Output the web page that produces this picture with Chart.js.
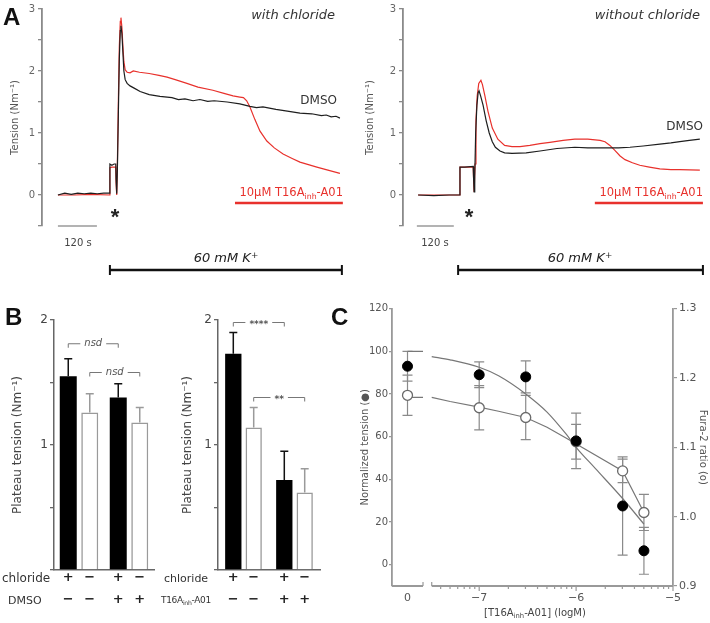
<!DOCTYPE html>
<html><head><meta charset="utf-8"><title>T16Ainh-A01 tension figure</title>
<script src="https://cdn.jsdelivr.net/npm/chart.js@4.4.1/dist/chart.umd.min.js"></script>
<style>
html,body{margin:0;padding:0;background:#fff;}
#fig{position:relative;width:710px;height:623px;overflow:hidden;font-family:"DejaVu Sans",sans-serif;}
canvas{position:absolute;}
.lb{position:absolute;white-space:nowrap;line-height:1;}
.lb sub{font-size:0.68em;vertical-align:-0.35em;line-height:0;}
.lb sup{font-size:0.68em;vertical-align:0.45em;line-height:0;}
</style></head>
<body><div id="fig">
<canvas id="a1" width="355" height="300" style="left:0;top:0"></canvas>
<canvas id="a2" width="355" height="300" style="left:355px;top:0"></canvas>
<canvas id="b1" width="160" height="323" style="left:0;top:300px"></canvas>
<canvas id="b2" width="195" height="323" style="left:160px;top:300px"></canvas>
<canvas id="c" width="355" height="323" style="left:355px;top:300px"></canvas>
</div>
<script>
const RED = '#e8312c';

// ---------- Panel A : [time (s), tension (N m^-1)] ----------
const A1_DMSO = [[49,0.0],[70,0.03],[90,0.01],[110,0.03],[130,0.02],[150,0.03],[170,0.02],[190,0.03],[208,0.03],[209,0.5],[215,0.48],[222,0.5],[227,0.5],[228,0.25],[230,0.02],[232,0.4],[235,1.3],[238,2.2],[241,2.65],[243,2.73],[246,2.6],[249,2.3],[252,2.0],[256,1.86],[262,1.8],[271,1.76],[285,1.72],[302,1.67],[330,1.62],[363,1.59],[400,1.57],[420,1.54],[440,1.55],[465,1.52],[486,1.54],[510,1.51],[530,1.52],[570,1.5],[609,1.47],[640,1.43],[660,1.41],[680,1.42],[720,1.38],[760,1.35],[794,1.32],[830,1.31],[860,1.28],[875,1.29],[890,1.26],[905,1.27],[917,1.24]];
const A1_T16A = [[49,0.0],[100,0.0],[150,0.01],[208,0.0],[209,0.44],[215,0.45],[227,0.45],[228,0.2],[230,0.0],[232,0.5],[235,1.5],[238,2.4],[241,2.8],[243,2.86],[246,2.7],[249,2.4],[252,2.15],[256,2.02],[262,1.98],[271,1.97],[281,2.0],[300,1.98],[330,1.96],[360,1.93],[385,1.9],[410,1.86],[446,1.8],[480,1.74],[526,1.69],[560,1.64],[588,1.6],[609,1.58],[620,1.57],[630,1.52],[640,1.42],[655,1.22],[671,1.03],[692,0.87],[715,0.76],[742,0.66],[770,0.59],[794,0.53],[820,0.49],[846,0.45],[880,0.4],[917,0.35]];
const A2_DMSO = [[49,0.0],[100,-0.01],[150,0.0],[184,0.0],[185,0.45],[200,0.45],[228,0.46],[229,0.3],[231,0.05],[233,0.3],[236,1.0],[240,1.45],[244,1.65],[247,1.68],[252,1.6],[260,1.45],[270,1.2],[280,1.0],[290,0.86],[300,0.77],[315,0.71],[330,0.68],[354,0.67],[400,0.68],[445,0.71],[500,0.75],[558,0.77],[600,0.76],[656,0.76],[700,0.76],[737,0.77],[780,0.79],[834,0.82],[870,0.84],[899,0.86],[930,0.88],[964,0.9]];
const A2_T16A = [[49,0.0],[184,0.0],[185,0.45],[228,0.45],[230,0.15],[231,0.05],[234,0.5],[237,1.2],[241,1.6],[246,1.8],[253,1.85],[258,1.78],[266,1.6],[276,1.35],[290,1.08],[308,0.9],[330,0.8],[354,0.78],[380,0.78],[412,0.8],[445,0.83],[477,0.85],[520,0.88],[558,0.9],[600,0.9],[640,0.88],[656,0.86],[672,0.8],[688,0.72],[705,0.63],[721,0.57],[745,0.52],[769,0.48],[800,0.45],[834,0.42],[870,0.41],[899,0.41],[964,0.4]];
const A_YTICKS = [-0.5, 0, 0.5, 1, 1.5, 2, 2.5, 3];
const A1_SCALEBAR_S = [49, 169];   // 120 s
const A1_KPLUS_S = [209, 923];     // 60 mM K+
const A1_DRUG_S = [594, 926];      // T16Ainh-A01
const A2_SCALEBAR_S = [45, 165];
const A2_KPLUS_S = [179, 974];
const A2_DRUG_S = [623, 974];

// ---------- Panel B : plateau tension (N m^-1) ----------
const B_GROUPS = ['no drug', 'drug'];
const B_CHLORIDE_SIGNS = ['+', '−'];
const B1_DRUG_SIGNS = ['−', '+'];   // DMSO
const B2_DRUG_SIGNS = ['−', '+'];   // T16Ainh-A01
const B1_WITH_CL = [1.55, 1.38];
const B1_WITH_CL_SEM = [0.14, 0.11];
const B1_NO_CL = [1.26, 1.18];
const B1_NO_CL_SEM = [0.15, 0.12];
const B2_WITH_CL = [1.73, 0.72];
const B2_WITH_CL_SEM = [0.17, 0.23];
const B2_NO_CL = [1.14, 0.62];
const B2_NO_CL_SEM = [0.16, 0.19];
const B_YTICKS = [0, 0.5, 1, 1.5, 2];
const B1_SIG = [{ds:0, y:1.81, text:'nsd'}, {ds:1, y:1.58, text:'nsd'}];
const B2_SIG = [{ds:0, y:1.98, text:'****'}, {ds:1, y:1.38, text:'**'}];

// ---------- Panel C : dose response ----------
const C_CONTROL_POS = -7.74;   // axis position of the "0" (no inhibitor) group
const C_CONTROL_END = -7.58;
const C_LOGCONC = [C_CONTROL_POS, -7, -6.52, -6, -5.52, -5.3];
const C_TENSION = [93, 89, 88, 58, 27.5, 6.5];
const C_TENSION_SEM = [7, 6, 7.5, 13, 23, 11];
const C_FURA = [1.175, 1.157, 1.143, 1.108, 1.066, 1.006];
const C_FURA_SEM = [0.029, 0.032, 0.032, 0.025, 0.017, 0.026];
const C_FIT_TENSION_X = [-7.49, -7.3, -7.0, -6.8, -6.52, -6.3, -6.1, -6.0, -5.8, -5.52, -5.3];
const C_FIT_TENSION = [97.5, 96, 92.5, 88.5, 80, 71.5, 61, 55, 45, 31, 19];
const C_FIT_FURA_X = [-7.49, -7.3, -7.0, -6.8, -6.52, -6.3, -6.1, -5.52, -5.3];
const C_FIT_FURA = [1.172, 1.166, 1.158, 1.152, 1.143, 1.129, 1.113, 1.066, 1.006];
const C_CTRL_FIT_TENSION = 100;
const C_CTRL_FIT_FURA = 1.172;
const C_XTICKS = [C_CONTROL_POS, -7, -6, -5];
const C_XTICK_LABELS = ['0', '−7', '−6', '−5'];
const C_YTICKS = [0, 20, 40, 60, 80, 100, 120];
const C_Y2TICKS = [0.9, 1.0, 1.1, 1.2, 1.3];

Chart.defaults.font.family = '"DejaVu Sans", sans-serif';
Chart.defaults.animation = false;
Chart.defaults.responsive = false;
Chart.defaults.plugins.legend.display = false;
Chart.defaults.plugins.tooltip.enabled = false;

const pts = arr => arr.map(p => ({x: p[0], y: p[1]}));

function traceAnn(ann) {
  return { id: 'traceAnn', afterDraw(chart) {
    const {ctx, chartArea: ca, scales: {x, y}} = chart;
    ctx.save();
    ctx.lineCap = 'butt';
    const sy = y.getPixelForValue(-0.5);
    ctx.strokeStyle = '#9a9a9a'; ctx.lineWidth = 1.5;
    ctx.beginPath(); ctx.moveTo(x.getPixelForValue(ann.scale[0]), sy); ctx.lineTo(x.getPixelForValue(ann.scale[1]), sy); ctx.stroke();
    const dy = y.getPixelForValue(-0.13);
    ctx.strokeStyle = RED; ctx.lineWidth = 2.5;
    ctx.beginPath(); ctx.moveTo(x.getPixelForValue(ann.drug[0]), dy); ctx.lineTo(x.getPixelForValue(ann.drug[1]), dy); ctx.stroke();
    const ky = ca.bottom + 44;
    const k0 = x.getPixelForValue(ann.kplus[0]), k1 = x.getPixelForValue(ann.kplus[1]);
    ctx.strokeStyle = '#111'; ctx.lineWidth = 2.5;
    ctx.beginPath(); ctx.moveTo(k0, ky); ctx.lineTo(k1, ky); ctx.stroke();
    ctx.lineWidth = 2;
    ctx.beginPath(); ctx.moveTo(k0, ky - 5); ctx.lineTo(k0, ky + 5); ctx.moveTo(k1, ky - 5); ctx.lineTo(k1, ky + 5); ctx.stroke();
    ctx.restore();
  }};
}

function tracePanel(id, dmso, t16a, xMax, axisW, padR, ann) {
  return new Chart(document.getElementById(id), {
    type: 'scatter',
    data: { datasets: [
      { label: 'DMSO', data: pts(dmso), showLine: true, borderColor: '#1e1e1e', borderWidth: 1.2, pointRadius: 0 },
      { label: '10µM T16Ainh-A01', data: pts(t16a), showLine: true, borderColor: RED, borderWidth: 1.2, pointRadius: 0 }
    ]},
    options: {
      layout: { padding: { top: 6, bottom: 74, left: 0, right: padR } },
      scales: {
        x: { type: 'linear', display: false, min: 0, max: xMax },
        y: { min: -0.5, max: 3,
             afterBuildTicks: s => { s.ticks = A_YTICKS.map(v => ({value: v})); },
             afterFit: s => { s.width = axisW; },
             ticks: { callback: v => (v >= 0 && Number.isInteger(v)) ? String(v) : '', font: {size: 10}, color: '#666', padding: 3 },
             grid: { drawOnChartArea: false, tickLength: 4, color: '#8a8a8a', lineWidth: 1.3 },
             border: { color: '#8a8a8a', width: 1.8 },
             title: { display: true, text: 'Tension (Nm⁻¹)', font: {size: 10}, color: '#555', padding: {top: 9, bottom: 0} } }
      }
    },
    plugins: [traceAnn(ann)]
  });
}

tracePanel('a1', A1_DMSO, A1_T16A, 948, 42, 5, {scale: A1_SCALEBAR_S, kplus: A1_KPLUS_S, drug: A1_DRUG_S});
tracePanel('a2', A2_DMSO, A2_T16A, 984, 48, 4, {scale: A2_SCALEBAR_S, kplus: A2_KPLUS_S, drug: A2_DRUG_S});

function barAnn(drugSigns, sig) {
  return { id: 'barAnn', afterDatasetsDraw(chart) {
    const {ctx, chartArea: ca, scales: {y}} = chart;
    ctx.save();
    chart.data.datasets.forEach((ds, i) => {
      chart.getDatasetMeta(i).data.forEach((bar, j) => {
        const top = y.getPixelForValue(ds.data[j] + ds.sem[j]);
        ctx.strokeStyle = ds.errColor; ctx.lineWidth = 1.5;
        ctx.beginPath(); ctx.moveTo(bar.x, bar.y); ctx.lineTo(bar.x, top);
        ctx.moveTo(bar.x - 4, top); ctx.lineTo(bar.x + 4, top); ctx.stroke();
        ctx.fillStyle = '#222'; ctx.font = 'bold 13px "DejaVu Sans"';
        ctx.textAlign = 'center'; ctx.textBaseline = 'middle';
        ctx.fillText(B_CHLORIDE_SIGNS[i], bar.x, ca.bottom + 8);
        ctx.fillText(drugSigns[j], bar.x, ca.bottom + 30);
      });
    });
    sig.forEach(s => {
      const m = chart.getDatasetMeta(s.ds).data;
      const x1 = m[0].x, x2 = m[1].x, xm = (x1 + x2) / 2, yp = y.getPixelForValue(s.y);
      const stars = s.text.indexOf('*') >= 0;
      ctx.font = stars ? 'bold 9px "DejaVu Sans"' : 'italic 10px "DejaVu Sans"';
      const tw = ctx.measureText(s.text).width;
      ctx.strokeStyle = '#777'; ctx.lineWidth = 1;
      ctx.beginPath();
      ctx.moveTo(x1, yp + 4); ctx.lineTo(x1, yp); ctx.lineTo(xm - tw / 2 - 4, yp);
      ctx.moveTo(xm + tw / 2 + 4, yp); ctx.lineTo(x2, yp); ctx.lineTo(x2, yp + 4);
      ctx.stroke();
      ctx.fillStyle = '#555'; ctx.textAlign = 'center'; ctx.textBaseline = 'middle';
      ctx.fillText(s.text, xm, yp + (stars ? 2 : 0));
    });
    ctx.restore();
  }};
}

function barPanel(id, withCl, withClSem, noCl, noClSem, drugSigns, sig, o) {
  return new Chart(document.getElementById(id), {
    type: 'bar',
    data: { labels: B_GROUPS, datasets: [
      { label: 'chloride +', data: withCl, sem: withClSem, errColor: '#111', backgroundColor: '#000', borderWidth: 0,
        categoryPercentage: o.cat, barPercentage: o.bar },
      { label: 'chloride −', data: noCl, sem: noClSem, errColor: '#9a9a9a', backgroundColor: '#fff', borderColor: '#9a9a9a', borderWidth: 1.6,
        categoryPercentage: o.cat, barPercentage: o.bar }
    ]},
    options: {
      layout: { padding: { top: 20, bottom: 53, left: 0, right: o.padR } },
      scales: {
        x: { ticks: {display: false}, grid: {display: false}, border: {color: '#666', width: 1.5}, afterFit: s => { s.height = 0; } },
        y: { min: 0, max: 2,
             afterBuildTicks: s => { s.ticks = B_YTICKS.map(v => ({value: v})); },
             afterFit: s => { s.width = o.axisW; },
             ticks: { callback: v => (v === 1 || v === 2) ? String(v) : '', font: {size: 12}, color: '#444', padding: 2 },
             grid: { drawOnChartArea: false, tickLength: 4, color: '#666', lineWidth: 1.3 },
             border: { color: '#666', width: 1.5 },
             title: { display: true, text: 'Plateau tension (Nm⁻¹)', font: {size: 12}, color: '#444', padding: {top: o.titlePad, bottom: 0} } }
      }
    },
    plugins: [barAnn(drugSigns, sig)]
  });
}

barPanel('b1', B1_WITH_CL, B1_WITH_CL_SEM, B1_NO_CL, B1_NO_CL_SEM, B1_DRUG_SIGNS, B1_SIG, {cat: 0.86, bar: 0.79, padR: 6, axisW: 54, titlePad: 11});
barPanel('b2', B2_WITH_CL, B2_WITH_CL_SEM, B2_NO_CL, B2_NO_CL_SEM, B2_DRUG_SIGNS, B2_SIG, {cat: 0.80, bar: 0.80, padR: 35, axisW: 58, titlePad: 21});

const cAnn = {
  id: 'cAnn',
  beforeDatasetsDraw(chart) {
    const {ctx, scales: {y, y2}} = chart;
    ctx.save();
    ctx.strokeStyle = '#8a8a8a'; ctx.lineWidth = 1.2;
    const draw = (meta, vals, sems, sc) => meta.data.forEach((p, i) => {
      const t = sc.getPixelForValue(vals[i] + sems[i]), b = sc.getPixelForValue(vals[i] - sems[i]);
      ctx.beginPath(); ctx.moveTo(p.x, t); ctx.lineTo(p.x, b);
      ctx.moveTo(p.x - 5, t); ctx.lineTo(p.x + 5, t); ctx.moveTo(p.x - 5, b); ctx.lineTo(p.x + 5, b); ctx.stroke();
    });
    draw(chart.getDatasetMeta(0), C_TENSION, C_TENSION_SEM, y);
    draw(chart.getDatasetMeta(1), C_FURA, C_FURA_SEM, y2);
    ctx.restore();
  },
  afterDraw(chart) {
    const {ctx, chartArea: ca, scales: {x}} = chart;
    const by = ca.bottom;
    ctx.save();
    ctx.strokeStyle = '#999'; ctx.lineWidth = 1.8;
    const e1 = x.getPixelForValue(C_CONTROL_END), s2 = x.getPixelForValue(-7.49);
    ctx.beginPath();
    ctx.moveTo(ca.left, by); ctx.lineTo(e1, by);
    ctx.moveTo(s2, by); ctx.lineTo(ca.right, by);
    ctx.stroke();
    ctx.lineWidth = 1.2;
    ctx.beginPath();
    ctx.moveTo(e1, by); ctx.lineTo(e1, by - 4);
    ctx.moveTo(s2, by); ctx.lineTo(s2, by - 4);
    [-7, -6, -5].forEach(v => { const px = x.getPixelForValue(v); ctx.moveTo(px, by); ctx.lineTo(px, by + 5); });
    [-8, -7, -6].forEach(d => { for (let k = 2; k <= 9; k++) {
      const v = d + Math.log10(k);
      if (v > -7.49 && v < -5) { const px = x.getPixelForValue(v); ctx.moveTo(px, by); ctx.lineTo(px, by + 3); }
    }});
    ctx.stroke();
    ctx.restore();
  }
};

new Chart(document.getElementById('c'), {
  type: 'scatter',
  data: { datasets: [
    { label: 'Normalized tension', data: C_LOGCONC.map((v, i) => ({x: v, y: C_TENSION[i]})), yAxisID: 'y',
      pointRadius: 5, pointBackgroundColor: '#000', pointBorderColor: '#000', pointBorderWidth: 1 },
    { label: 'Fura-2 ratio', data: C_LOGCONC.map((v, i) => ({x: v, y: C_FURA[i]})), yAxisID: 'y2',
      pointRadius: 5, pointBackgroundColor: '#fff', pointBorderColor: '#6a6a6a', pointBorderWidth: 1.3 },
    { label: 'fit tension', data: C_FIT_TENSION_X.map((v, i) => ({x: v, y: C_FIT_TENSION[i]})), yAxisID: 'y',
      showLine: true, borderColor: '#777', borderWidth: 1.2, pointRadius: 0, cubicInterpolationMode: 'monotone' },
    { label: 'fit tension control', data: [{x: C_CONTROL_POS, y: C_CTRL_FIT_TENSION}, {x: C_CONTROL_END, y: C_CTRL_FIT_TENSION}], yAxisID: 'y',
      showLine: true, borderColor: '#777', borderWidth: 1.2, pointRadius: 0 },
    { label: 'fit fura', data: C_FIT_FURA_X.map((v, i) => ({x: v, y: C_FIT_FURA[i]})), yAxisID: 'y2',
      showLine: true, borderColor: '#777', borderWidth: 1.2, pointRadius: 0 },
    { label: 'fit fura control', data: [{x: C_CONTROL_POS, y: C_CTRL_FIT_FURA}, {x: C_CONTROL_END, y: C_CTRL_FIT_FURA}], yAxisID: 'y2',
      showLine: true, borderColor: '#777', borderWidth: 1.2, pointRadius: 0 }
  ]},
  options: {
    layout: { padding: { top: 8, bottom: 0, left: 0, right: 0 } },
    scales: {
      x: { type: 'linear', min: -7.9, max: -5,
           afterBuildTicks: s => { s.ticks = C_XTICKS.map(v => ({value: v})); },
           afterFit: s => { s.height = 37; },
           ticks: { callback: (v, i) => C_XTICK_LABELS[i], autoSkip: false, maxRotation: 0, font: {size: 11}, color: '#555', padding: 6 },
           grid: { display: false, drawTicks: false }, border: { display: false } },
      y: { position: 'left', min: -10, max: 120,
           afterBuildTicks: s => { s.ticks = C_YTICKS.map(v => ({value: v})); },
           afterFit: s => { s.width = 37; },
           ticks: { font: {size: 10}, color: '#555', padding: 1 },
           grid: { drawOnChartArea: false, tickLength: 3, color: '#999', lineWidth: 1.2 },
           border: { color: '#999', width: 1.8 },
           title: { display: true, text: 'Normalized tension (●)', font: {size: 10}, color: '#555', padding: {top: 4, bottom: 0} } },
      y2: { position: 'right', min: 0.9, max: 1.3,
           afterBuildTicks: s => { s.ticks = C_Y2TICKS.map(v => ({value: v})); },
           afterFit: s => { s.width = 37; },
           ticks: { callback: v => v.toFixed(1), font: {size: 11}, color: '#555', padding: 2 },
           grid: { drawOnChartArea: false, tickLength: 4, color: '#999', lineWidth: 1.2 },
           border: { color: '#999', width: 1.8 },
           title: { display: true, text: 'Fura-2 ratio (o)', font: {size: 10}, color: '#555', padding: {top: 1, bottom: 0} } }
    }
  },
  plugins: [cAnn]
});

// ---------- free text ----------
const BOLD = 'font:bold 24px "Liberation Sans",Arial,sans-serif;color:#111';
const STAR = 'font:bold 22px "Liberation Sans",Arial,sans-serif;color:#222';
const TEXT = [
  ['A', 3, 17, 'l', BOLD],
  ['<i>with chloride</i>', 335, 14, 'r', 'font-size:13px;color:#333'],
  ['DMSO', 337, 100, 'r', 'font-size:12px;color:#333'],
  ['10μM T16A<sub>inh</sub>-A01', 343, 193, 'r', 'font-size:11.5px;color:' + RED],
  ['*', 115, 217, 'c', STAR],
  ['120 s', 78, 243, 'c', 'font-size:10px;color:#444'],
  ['<i>60 mM K<sup>+</sup></i>', 226, 257, 'c', 'font-size:13px;color:#222'],
  ['<i>without chloride</i>', 700, 14, 'r', 'font-size:13px;color:#333'],
  ['DMSO', 703, 126, 'r', 'font-size:12px;color:#333'],
  ['10μM T16A<sub>inh</sub>-A01', 703, 193, 'r', 'font-size:11.5px;color:' + RED],
  ['*', 469, 217, 'c', STAR],
  ['120 s', 435, 243, 'c', 'font-size:10px;color:#444'],
  ['<i>60 mM K<sup>+</sup></i>', 580, 257, 'c', 'font-size:13px;color:#222'],
  ['B', 5, 317, 'l', BOLD],
  ['chloride', 2, 578, 'l', 'font-size:12px;color:#333'],
  ['DMSO', 8, 600, 'l', 'font-size:11px;color:#333'],
  ['chloride', 164, 578, 'l', 'font-size:11px;color:#333'],
  ['T16A<sub>inh</sub>-A01', 161, 600, 'l', 'font-size:9px;color:#333;letter-spacing:-0.3px'],
  ['C', 331, 317, 'l', BOLD],
  ['[T16A<sub>inh</sub>-A01] (logM)', 535, 613, 'c', 'font-size:10px;color:#444']
];
const fig = document.getElementById('fig');
TEXT.forEach(([h, x, y, a, css]) => {
  const d = document.createElement('div');
  d.className = 'lb'; d.innerHTML = h;
  const tx = a === 'l' ? '0' : a === 'r' ? '-100%' : '-50%';
  d.style.cssText = `left:${x}px;top:${y}px;transform:translate(${tx},-50%);` + css;
  fig.appendChild(d);
});
</script></body></html>
